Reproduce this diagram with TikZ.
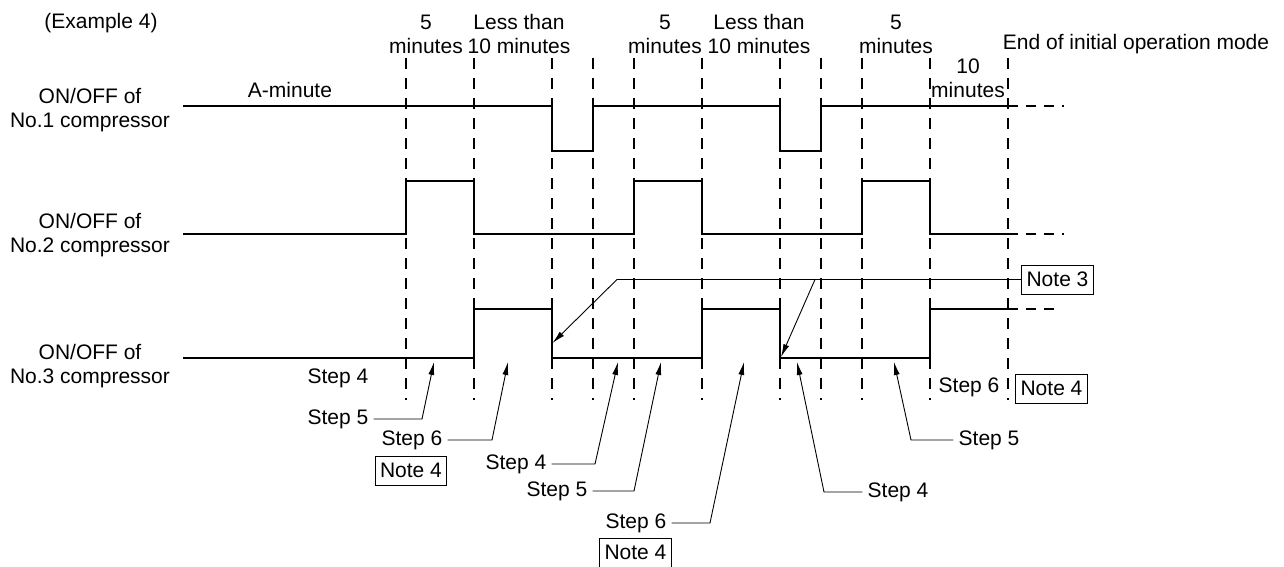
\documentclass[tikz,border=0pt]{standalone}
\usepackage{fontspec}
\setmainfont{Liberation Sans}
\usetikzlibrary{arrows.meta}
\begin{document}
\begin{tikzpicture}[x=1pt,y=-1pt,
  txt/.style={inner sep=0pt, font=\fontsize{21}{24}\selectfont, align=center},
  stepbox/.style={inner xsep=5pt, inner ysep=0pt, font=\fontsize{21}{24}\selectfont},
  notebox/.style={draw, line width=1pt, inner xsep=5pt, inner ysep=0pt, minimum height=29pt, font=\fontsize{21}{24}\selectfont},
  sig/.style={line width=2pt, line join=miter},
  sigdash/.style={line width=2pt, dash pattern=on 10pt off 8pt},
  vdash/.style={line width=1.3pt, dash pattern=on 11pt off 9pt},
  leader/.style={line width=0.9pt},
  arr/.style={line width=0.9pt, -{Latex[length=13pt,width=6pt]}}
]
\useasboundingbox (0,0) rectangle (1284,567);

% vertical dashed guides
\foreach \xx in {406,474,552,593,634,702,780,821,862,930,1008}
  \draw[vdash] (\xx,58) -- (\xx,400);

% top labels
\node[txt] (ex) at (101,23) {(Example 4)};
\node[txt] (t1) at (426,34) {5\\minutes};
\node[txt] (t2) at (519,34) {Less than\\10 minutes};
\node[txt] (t3) at (665,34) {5\\minutes};
\node[txt] (t4) at (759,34) {Less than\\10 minutes};
\node[txt] (t5) at (896,34) {5\\minutes};
\node[txt] (t6) at (968,78) {10\\minutes};
\node[txt] (t7) at (1136,44) {End of initial operation mode};
\node[txt] (am) at (290,90) {A-minute};

% row labels
\node[txt] (r1) at (90,110) {ON/OFF of\\No.1 compressor};
\node[txt] (r2) at (90,235) {ON/OFF of\\No.2 compressor};
\node[txt] (r3) at (90,366) {ON/OFF of\\No.3 compressor};

% signals
\draw[sig] (183,106) -- (552,106) -- (552,151) -- (593,151) -- (593,106)
  -- (780,106) -- (780,151) -- (821,151) -- (821,106) -- (1018,106);
\draw[sigdash] (1026,106) -- (1064,106);
\draw[sig] (183,234) -- (406,234) -- (406,181) -- (474,181) -- (474,234)
  -- (634,234) -- (634,181) -- (702,181) -- (702,234)
  -- (862,234) -- (862,181) -- (930,181) -- (930,234) -- (1018,234);
\draw[sigdash] (1026,234) -- (1064,234);
\draw[sig] (183,358) -- (474,358) -- (474,309) -- (552,309) -- (552,358)
  -- (702,358) -- (702,309) -- (780,309) -- (780,358)
  -- (930,358) -- (930,309) -- (1018,309);
\draw[sigdash] (1026,309) -- (1056,309);

% notes
\node[notebox] (n3) at (1057.5,279.5) {Note 3};
\node[notebox] (n4a) at (411,470.5) {Note 4};
\node[notebox] (n4b) at (635.5,552.5) {Note 4};
\node[notebox] (n4c) at (1051.5,388.5) {Note 4};

% steps
\node[stepbox] (s4a) at (338,378) {Step 4};
\node[stepbox] (s5a) at (338,419) {Step 5};
\node[stepbox] (s6a) at (412,440) {Step 6};
\node[stepbox] (s4b) at (516,464) {Step 4};
\node[stepbox] (s5b) at (557,491) {Step 5};
\node[stepbox] (s6b) at (636,523) {Step 6};
\node[stepbox] (s4c) at (898,492) {Step 4};
\node[stepbox] (s5c) at (989,440) {Step 5};
\node[stepbox] (s6c) at (969,387) {Step 6};

% arrow tips
\coordinate (a5a) at (434,362);
\coordinate (a6a) at (508,362);
\coordinate (a4b) at (618,362);
\coordinate (a5b) at (661,362);
\coordinate (a6b) at (744,362);
\coordinate (a4c) at (797,362);
\coordinate (a5c) at (894,362);
\coordinate (a3a) at (552.5,343);
\coordinate (a3b) at (781,357);
\coordinate (k3a) at (617,279.5);
\coordinate (k3b) at (815,279.5);

% leaders
\draw[arr] (s5a.east) -- (422,0 |- s5a.east) -- (a5a);
\draw[arr] (s6a.east) -- (492,0 |- s6a.east) -- (a6a);
\draw[arr] (s4b.east) -- (595,0 |- s4b.east) -- (a4b);
\draw[arr] (s5b.east) -- (634,0 |- s5b.east) -- (a5b);
\draw[arr] (s6b.east) -- (710,0 |- s6b.east) -- (a6b);
\draw[arr] (s4c.west) -- (824,0 |- s4c.west) -- (a4c);
\draw[arr] (s5c.west) -- (911,0 |- s5c.west) -- (a5c);
\draw[arr] (n3.west) -- (k3a) -- (a3a);
\draw[arr] (k3b) -- (a3b);
\end{tikzpicture}
\end{document}
